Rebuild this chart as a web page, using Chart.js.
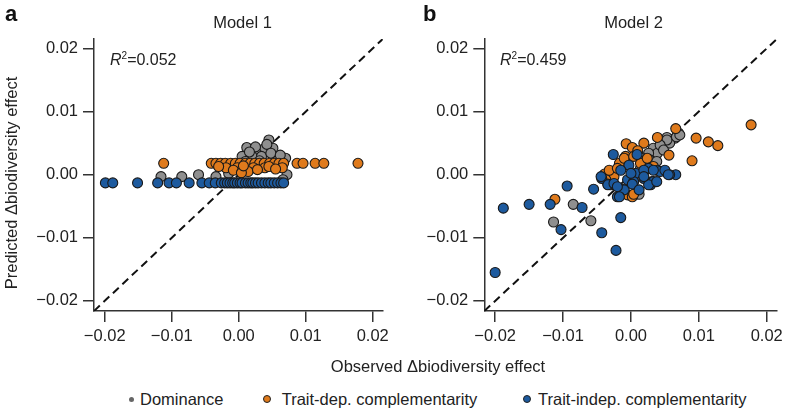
<!DOCTYPE html>
<html>
<head>
<meta charset="utf-8">
<script src="https://cdn.jsdelivr.net/npm/chart.js@4.4.1/dist/chart.umd.min.js"></script>
<style>
  body { margin: 0; background: #fff; }
  #wrap { position: relative; width: 788px; height: 409px; overflow: hidden;
          font-family: "Liberation Sans", Arial, sans-serif; color: #222; }
  #wrap canvas { position: absolute; top: 0; }
  .t { position: absolute; white-space: nowrap; line-height: 1; font-size: 16.5px; }
  .lab { position: absolute; font-weight: bold; font-size: 22px; line-height: 1; color: #111; }
  .dot { position: absolute; border-radius: 50%; }
</style>
</head>
<body>
<div id="wrap">
  <canvas id="grafico1" width="394" height="360" style="left:0"></canvas>
  <canvas id="grafico2" width="394" height="360" style="left:394px"></canvas>

  <div class="lab" style="left:5px; top:3px">a</div>
  <div class="lab" style="left:423px; top:3px">b</div>
  <div class="t" style="left:242.5px; top:14px; transform:translateX(-50%)">Model 1</div>
  <div class="t" style="left:633.5px; top:14px; transform:translateX(-50%)">Model 2</div>
  <div class="t" style="left:110px; top:51px; font-size:16px"><i>R</i><sup style="font-size:10px">2</sup>=0.052</div>
  <div class="t" style="left:500px; top:51px; font-size:16px"><i>R</i><sup style="font-size:10px">2</sup>=0.459</div>
  <div class="t" style="left:11px; top:183px; transform:translate(-50%,-50%) rotate(-90deg)">Predicted &Delta;biodiversity effect</div>
  <div class="t" style="left:438px; top:358px; transform:translateX(-50%)">Observed &Delta;biodiversity effect</div>

  <!-- legenda -->
  <div class="dot" style="left:129px; top:396.5px; width:5px; height:5px; background:#666"></div>
  <div class="t" style="left:140px; top:391px">Dominance</div>
  <div class="dot" style="left:262.5px; top:395px; width:6px; height:6px; background:#df7a1c; border:1px solid #222"></div>
  <div class="t" style="left:281.7px; top:391px">Trait-dep. complementarity</div>
  <div class="dot" style="left:523px; top:395px; width:6px; height:6px; background:#1d5a9e; border:1px solid #222"></div>
  <div class="t" style="left:538px; top:391px">Trait-indep. complementarity</div>
</div>

<script>
// Eixos (mesmos limites para os dois painéis)
const axisMin = -0.0216;
const axisMax = 0.0215;
const oneToOne = [[axisMin, axisMin], [axisMax, axisMax]];

// Model 1 -- [observed, predicted]
const m1Dominance = [
  [0.0045, 0.0055], [0.0012, 0.0043], [0.0027, 0.0037], [0.0039, 0.0042], [0.0051, 0.0042],
  [0.0005, 0.0029], [0.0020, 0.0029], [0.0034, 0.0029], [0.0070, 0.0026], [0.0056, 0.0024],
  [-0.0116, -0.0003], [-0.0085, -0.0003], [-0.0060, 0.0000], [-0.0034, -0.0003], [0.0072, 0.0000],
  [0.0066, -0.0008], [0.0042, 0.0048], [0.0025, 0.0044], [-0.0010, 0.0010], [0.0010, 0.0021],
  [0.0048, 0.0034], [0.0016, 0.0036], [0.0031, 0.0022], [-0.0015, 0.0002], [0.0062, 0.0031]
];
const m1TraitDep = [
  [-0.0112, 0.0018], [-0.0041, 0.0018], [-0.0034, 0.0018], [-0.0027, 0.0018], [-0.0020, 0.0018],
  [-0.0012, 0.0018], [-0.0005, 0.0018], [0.0002, 0.0018], [0.0010, 0.0018], [0.0017, 0.0018],
  [0.0024, 0.0018], [0.0031, 0.0018], [0.0038, 0.0018], [0.0046, 0.0018], [0.0053, 0.0018],
  [0.0060, 0.0018], [0.0067, 0.0018], [0.0087, 0.0018], [0.0096, 0.0018], [0.0114, 0.0018],
  [0.0127, 0.0018], [0.0178, 0.0018], [-0.0019, 0.0011], [-0.0002, 0.0011], [0.0022, 0.0011],
  [0.0039, 0.0011], [0.0065, 0.0011], [0.0014, 0.0005], [-0.0008, 0.0007], [0.0004, 0.0003],
  [0.0028, 0.0008], [-0.0030, 0.0013], [0.0007, 0.0014], [0.0045, 0.0013], [0.0055, 0.0009]
];
const m1TraitIndepX = [
  -0.0199, -0.0188, -0.0151, -0.0121, -0.0104, -0.0093, -0.0074, -0.0055, -0.0044, -0.0035,
  -0.0026, -0.0021, -0.0017, -0.0013, -0.0009, -0.0006, -0.0002, 0.0002, 0.0005, 0.0010,
  0.0014, 0.0018, 0.0021, 0.0025, 0.0029, 0.0034, 0.0039, 0.0044, 0.0048, 0.0053,
  0.0058, 0.0063, 0.0067
];
const m1TraitIndepY = -0.0013; // todos na mesma linha

// Model 2 -- [observed, predicted]
const m2Dominance = [
  [0.0070, 0.0066], [0.0065, 0.0058], [0.0053, 0.0059], [0.0057, 0.0050], [0.0045, 0.0044],
  [0.0033, 0.0042], [0.0039, 0.0034], [0.0026, 0.0034], [0.0028, 0.0023], [0.0019, 0.0026],
  [0.0014, 0.0010], [-0.0114, -0.0075], [-0.0085, -0.0047], [-0.0059, -0.0073], [0.0009, -0.0030],
  [0.0012, -0.0031], [0.0053, 0.0055], [0.0067, 0.0060], [0.0072, 0.0063], [0.0043, 0.0047],
  [0.0048, 0.0039], [0.0038, 0.0021]
];
const m2TraitDep = [
  [0.0177, 0.0079], [0.0096, 0.0058], [0.0114, 0.0052], [0.0128, 0.0046], [0.0090, 0.0022],
  [0.0066, 0.0073], [0.0039, 0.0059], [0.0019, 0.0050], [-0.0007, 0.0049], [0.0002, 0.0043],
  [0.0056, 0.0031], [-0.0008, 0.0029], [-0.0017, 0.0018], [-0.0039, 0.0001], [-0.0025, -0.0003],
  [-0.0112, -0.0039], [0.0014, 0.0018], [0.0033, 0.0013], [-0.0010, 0.0026], [0.0004, 0.0029],
  [0.0024, 0.0026], [-0.0037, -0.0008], [-0.0030, -0.0016], [-0.0005, -0.0032], [0.0002, -0.0035],
  [-0.0032, 0.0007], [-0.0034, -0.0015], [0.0004, -0.0031], [-0.0020, 0.0010], [0.0010, 0.0038]
];
const m2TraitIndep = [
  [-0.0026, 0.0032], [0.0009, 0.0032], [-0.0094, -0.0018], [-0.0055, -0.0023], [-0.0043, -0.0006],
  [0.0066, 0.0000], [0.0057, 0.0000], [0.0039, 0.0007], [0.0026, 0.0010], [-0.0003, 0.0015],
  [-0.0015, 0.0007], [0.0007, 0.0002], [-0.0034, -0.0016], [-0.0025, -0.0014], [-0.0013, -0.0023],
  [-0.0005, -0.0008], [0.0004, -0.0011], [0.0019, -0.0006], [0.0031, -0.0011], [0.0043, 0.0005],
  [-0.0200, -0.0155], [-0.0188, -0.0053], [-0.0150, -0.0047], [-0.0119, -0.0047], [-0.0103, -0.0087],
  [-0.0072, -0.0052], [-0.0043, -0.0092], [-0.0022, -0.0120], [-0.0015, -0.0068], [-0.0020, -0.0035],
  [-0.0010, -0.0024], [0.0029, -0.0016], [0.0033, -0.0011], [0.0002, -0.0015], [-0.0044, -0.0003],
  [-0.0020, -0.0019], [0.0000, 0.0002], [0.0019, 0.0007], [0.0033, 0.0007], [0.0050, 0.0007],
  [0.0055, 0.0000], [0.0026, -0.0016], [0.0038, -0.0011], [-0.0017, -0.0035], [0.0012, -0.0024],
  [0.0019, -0.0003]
];

const cores = { dominance: '#8f8f8f', traitDep: '#df7a1c', traitIndep: '#1d5a9e' };

function pontos(pares) {
    return pares.map(p => ({ x: p[0], y: p[1] }));
}

function rotulo(v) {
    const s = Math.abs(v) < 1e-9 ? '0.00' : v.toFixed(2);
    return s.replace('-', '\u2212');
}

function serie(data, cor, ordem) {
    return {
        data: pontos(data), backgroundColor: cor, borderColor: '#1a1a1a', borderWidth: 1.1,
        pointRadius: 5, order: ordem
    };
}

function eixo(fit) {
    return {
        type: 'linear', min: axisMin, max: axisMax, afterFit: fit,
        ticks: { stepSize: 0.01, includeBounds: false, callback: rotulo, color: '#222',
                 padding: 5, font: { family: 'Liberation Sans', size: 16.5 } },
        grid: { drawOnChartArea: false, drawTicks: true, tickLength: 11, color: '#333', lineWidth: 1.5 },
        border: { display: true, color: '#333', width: 1.5 }
    };
}

// Função genérica para desenhar um painel
function inicializarGrafico(canvasId, dom, dep, indep, yWidth, padRight) {
    const ctx = document.getElementById(canvasId).getContext('2d');
    new Chart(ctx, {
        type: 'scatter',
        data: {
            datasets: [
                serie(indep, cores.traitIndep, 1),
                serie(dep, cores.traitDep, 2),
                serie(dom, cores.dominance, 3),
                { data: pontos(oneToOne), showLine: true, pointRadius: 0, borderColor: '#111',
                  borderWidth: 2, borderDash: [8, 5], order: 4 }
            ]
        },
        options: {
            responsive: false, animation: false, devicePixelRatio: 1,
            layout: { padding: { top: 39, right: padRight, left: 0, bottom: 0 } },
            plugins: { legend: { display: false }, tooltip: { enabled: false } },
            scales: {
                x: eixo(s => { s.height = 49; }),
                y: eixo(s => { s.width = yWidth; })
            }
        }
    });
}

const m1TraitIndep = m1TraitIndepX.map(x => [x, m1TraitIndepY]);
inicializarGrafico('grafico1', m1Dominance, m1TraitDep, m1TraitIndep, 94, 2.3);
inicializarGrafico('grafico2', m2Dominance, m2TraitDep, m2TraitIndep, 90.3, 6.3);
</script>
</body>
</html>
